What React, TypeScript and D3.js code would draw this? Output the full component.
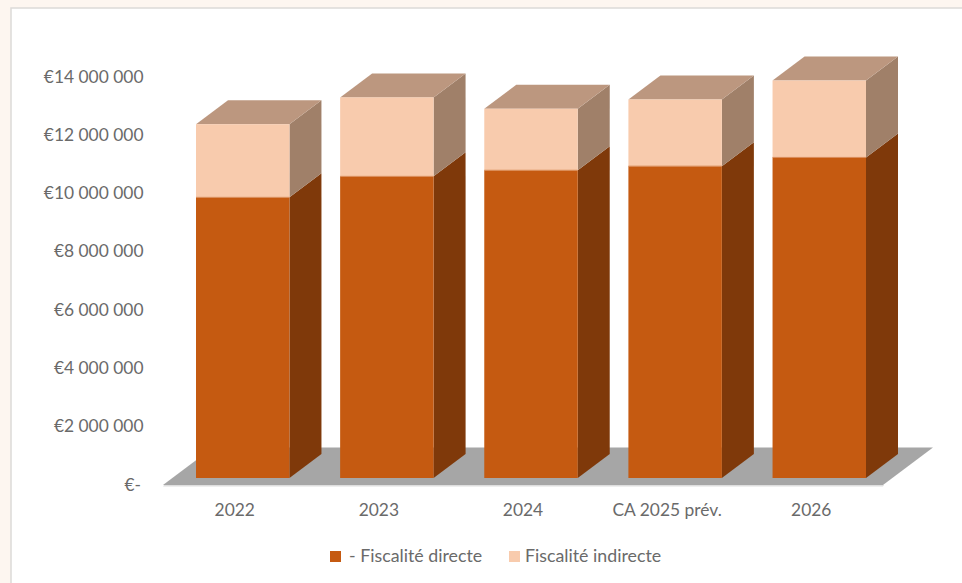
import React from "react";
import * as d3 from "d3";

const categories = ["2022", "2023", "2024", "CA 2025 prév.", "2026"];
const directe = [9630000, 10350000, 10560000, 10700000, 11000000];
const indirecte = [2510000, 2710000, 2110000, 2290000, 2640000];
const axisTicks = [0, 2000000, 4000000, 6000000, 8000000, 10000000, 12000000, 14000000];
const seriesNames = ["- Fiscalité directe", "Fiscalité indirecte"];

const WIDTH = 962;
const HEIGHT = 583;
const FONT = "Lato, 'Open Sans', sans-serif";
const TEXT = "#6a6a6a";

// Oblique extrusion used by every box of the pseudo-3D stack
const DEPTH_X = 32;
const DEPTH_Y = 24;

const COLORS = {
  directe: { front: "#c55a11", side: "#7f390a", edge: "#d98a55" },
  indirecte: { front: "#f8cbad", side: "#a08069", top: "#bc977f" },
};

const euroLocale = d3.formatLocale({
  decimal: ",",
  thousands: " ",
  grouping: [3],
  currency: ["€", ""],
});
const formatEuro = (v: number) => (v === 0 ? "€-" : euroLocale.format("$,.0f")(v));

const poly = (pts: [number, number][]) => pts.map((p) => p.join(",")).join(" ");

export default function App() {
  const xBand = d3.scaleBand<string>().domain(categories).range([196, 866]).paddingInner(0.3516).paddingOuter(0);
  const yAxis = d3.scaleLinear().domain([0, 14000000]).range([484, 76]);
  // Bars stand slightly behind the front edge of the floor
  const yBar = d3.scaleLinear().domain([0, 14000000]).range([478, 70]);
  const w = xBand.bandwidth();

  const floorFront = yAxis(0) + 1;
  const floorBack = floorFront - 37.5;

  return (
    <svg
      width={WIDTH}
      height={HEIGHT}
      viewBox={`0 0 ${WIDTH} ${HEIGHT}`}
      style={{ position: "absolute", left: 0, top: 0, display: "block" }}
    >
      <rect x={0} y={0} width={WIDTH} height={HEIGHT} fill="#fdf6f0" />
      <rect x={11} y={8} width={WIDTH} height={HEIGHT} fill="#ffffff" stroke="#dcdad8" strokeWidth={1.5} />

      {/* Floor of the chart */}
      <polygon
        points={poly([
          [163, floorFront + 1.5],
          [883, floorFront + 1.5],
          [884, floorFront],
          [164, floorFront],
        ])}
        fill="#dedede"
      />
      <polygon
        points={poly([
          [163, floorFront],
          [883, floorFront],
          [933, floorBack],
          [213, floorBack],
        ])}
        fill="#a6a6a6"
      />

      {/* Value axis labels */}
      {axisTicks.map((t) => (
        <text
          key={t}
          x={t === 0 ? 141 : 143.5}
          y={yAxis(t) + 0.5}
          dy="0.35em"
          textAnchor="end"
          fontFamily={FONT}
          fontSize={17.4}
          fill={TEXT}
        >
          {formatEuro(t)}
        </text>
      ))}

      {/* Stacked boxes */}
      {categories.map((c, i) => {
        const x = xBand(c) as number;
        const y0 = yBar(0);
        const y1 = yBar(directe[i]);
        const y2 = yBar(directe[i] + indirecte[i]);
        const r = x + w;
        return (
          <g key={c}>
            <polygon
              points={poly([
                [r, y0],
                [r + DEPTH_X, y0 - DEPTH_Y],
                [r + DEPTH_X, y1 - DEPTH_Y],
                [r, y1],
              ])}
              fill={COLORS.directe.side}
            />
            <polygon
              points={poly([
                [r, y1],
                [r + DEPTH_X, y1 - DEPTH_Y],
                [r + DEPTH_X, y2 - DEPTH_Y],
                [r, y2],
              ])}
              fill={COLORS.indirecte.side}
            />
            <polygon
              points={poly([
                [x, y2],
                [r, y2],
                [r + DEPTH_X, y2 - DEPTH_Y],
                [x + DEPTH_X, y2 - DEPTH_Y],
              ])}
              fill={COLORS.indirecte.top}
            />
            <rect x={x} y={y1} width={w} height={y0 - y1} fill={COLORS.directe.front} />
            <rect x={x} y={y2} width={w} height={y1 - y2} fill={COLORS.indirecte.front} />
            <line x1={x} x2={r} y1={y1} y2={y1} stroke={COLORS.directe.edge} strokeWidth={1} />
            <text
              x={x + w / 2 - 8}
              y={510}
              dy="0.35em"
              textAnchor="middle"
              fontFamily={FONT}
              fontSize={17.4}
              fill={TEXT}
            >
              {c}
            </text>
          </g>
        );
      })}

      {/* Legend */}
      <rect x={330} y={551} width={11} height={11} fill={COLORS.directe.front} />
      <text x={349} y={556} dy="0.35em" fontFamily={FONT} fontSize={17.8} fill={TEXT}>
        {seriesNames[0]}
      </text>
      <rect x={509} y={551} width={11} height={11} fill={COLORS.indirecte.front} />
      <text x={525} y={556} dy="0.35em" fontFamily={FONT} fontSize={17.8} fill={TEXT}>
        {seriesNames[1]}
      </text>
    </svg>
  );
}
